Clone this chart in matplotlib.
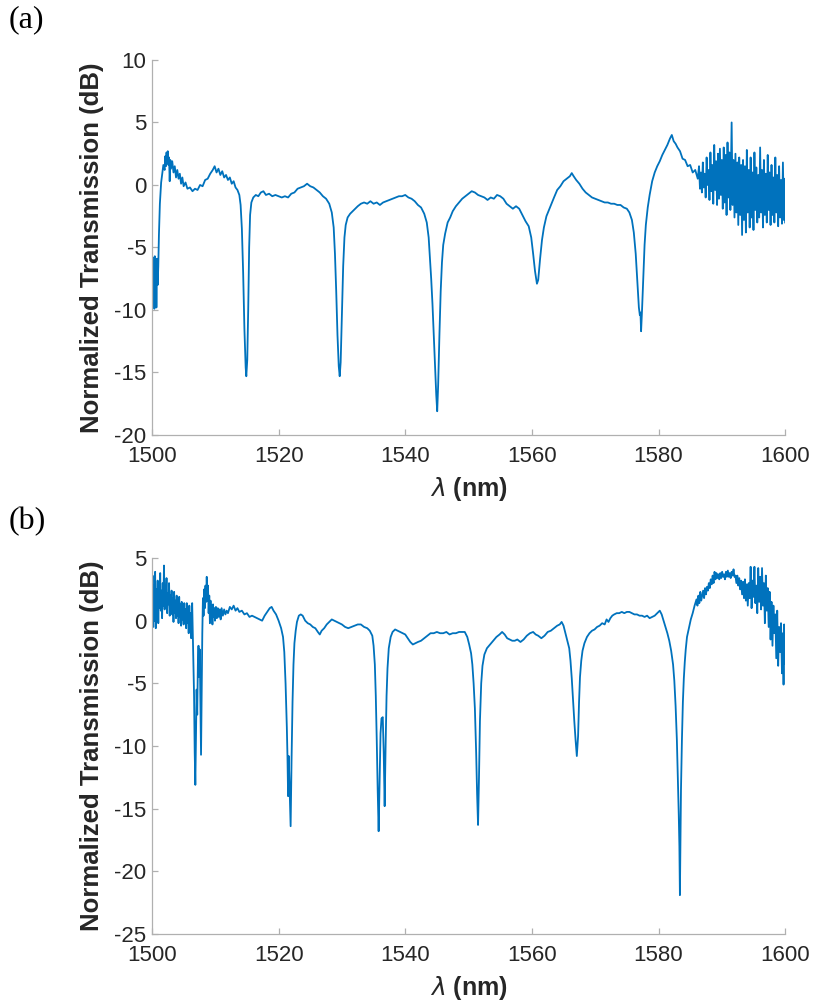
import matplotlib.pyplot as plt

# (wavelength nm, transmission dB)
points_a = [
    (1500.00, -10.3), (1500.05, -6.2), (1500.10, -9.5), (1500.15, -5.8), (1500.22, -8.8),
    (1500.30, -6.0), (1500.38, -9.9), (1500.45, -5.7), (1500.55, -8.5), (1500.62, -6.1),
    (1500.70, -9.8), (1500.80, -5.9), (1500.90, -8.0), (1501.00, -6.5), (1501.10, -4.0),
    (1501.25, -1.5), (1501.45, 0.2), (1501.6, 0.8), (1501.8, 1.6), (1502.0, 1.2),
    (1502.1, 2.3), (1502.2, 1.5), (1502.3, 2.6), (1502.4, 1.8), (1502.5, 2.7),
    (1502.6, 1.6), (1502.7, 2.2), (1502.8, 0.3), (1502.9, 2.0), (1503.0, 1.3),
    (1503.2, 1.9), (1503.4, 1.0), (1503.6, 1.5), (1503.8, 0.6), (1504.0, 1.2),
    (1504.2, 0.5), (1504.4, 0.9), (1504.6, 0.1), (1504.8, 0.6), (1505.0, -0.1),
    (1505.3, 0.2), (1505.6, -0.3), (1506.0, -0.2), (1506.4, -0.5), (1506.8, -0.3),
    (1507.2, -0.4), (1507.6, 0.0), (1508.0, -0.1), (1508.4, 0.4), (1508.8, 0.5),
    (1509.2, 0.9), (1509.6, 1.2), (1509.9, 1.5), (1510.2, 1.0), (1510.5, 1.3),
    (1510.8, 0.8), (1511.1, 1.1), (1511.4, 0.6), (1511.7, 0.8), (1512.0, 0.4),
    (1512.3, 0.6), (1512.6, 0.1), (1512.9, 0.3), (1513.2, -0.2), (1513.5, -0.4),
    (1513.8, -0.8), (1514.0, -1.6), (1514.2, -3.5), (1514.4, -7.0), (1514.6, -11.5),
    (1514.8, -14.6), (1514.9, -15.3), (1515.05, -14.0), (1515.2, -10.0), (1515.35, -5.0),
    (1515.5, -2.4), (1515.7, -1.4), (1516.0, -1.0), (1516.4, -0.8), (1516.8, -0.9),
    (1517.2, -0.6), (1517.6, -0.5), (1518.0, -0.8), (1518.5, -0.7), (1519.0, -0.9),
    (1519.5, -0.8), (1520.0, -0.9), (1520.5, -1.0), (1521.0, -0.9), (1521.5, -1.0),
    (1522.0, -0.7), (1522.5, -0.6), (1523.0, -0.3), (1523.5, -0.2), (1524.0, -0.1),
    (1524.5, 0.1), (1525.0, -0.1), (1525.5, -0.2), (1526.0, -0.4), (1526.5, -0.6),
    (1527.0, -0.9), (1527.5, -1.1), (1528.0, -1.5), (1528.4, -2.2), (1528.7, -3.4),
    (1528.9, -5.5), (1529.1, -8.5), (1529.3, -12.0), (1529.5, -14.5), (1529.65, -15.3),
    (1529.8, -14.2), (1530.0, -10.5), (1530.2, -6.5), (1530.4, -4.2), (1530.6, -3.2),
    (1530.9, -2.6), (1531.3, -2.3), (1531.7, -2.1), (1532.1, -1.9), (1532.5, -1.7),
    (1533.0, -1.5), (1533.5, -1.4), (1534.0, -1.5), (1534.5, -1.3), (1535.0, -1.5),
    (1535.5, -1.4), (1536.0, -1.6), (1536.5, -1.4), (1537.0, -1.3), (1537.5, -1.2),
    (1538.0, -1.1), (1538.5, -1.0), (1539.0, -0.9), (1539.5, -0.9), (1540.0, -0.8),
    (1540.5, -1.0), (1541.0, -1.1), (1541.5, -1.3), (1542.0, -1.6), (1542.5, -1.8),
    (1543.0, -2.3), (1543.4, -3.0), (1543.7, -4.2), (1543.9, -5.8), (1544.1, -7.5),
    (1544.3, -9.5), (1544.5, -12.0), (1544.7, -14.5), (1544.9, -16.8), (1545.05, -18.1),
    (1545.2, -16.0), (1545.4, -12.0), (1545.6, -8.5), (1545.8, -6.2), (1546.0, -4.8),
    (1546.3, -3.9), (1546.7, -3.0), (1547.1, -2.6), (1547.5, -2.1), (1548.0, -1.7),
    (1548.5, -1.4), (1549.0, -1.1), (1549.5, -0.9), (1550.0, -0.7), (1550.5, -0.5),
    (1551.0, -0.6), (1551.5, -0.8), (1552.0, -0.9), (1552.5, -1.0), (1553.0, -1.2),
    (1553.5, -1.0), (1554.0, -1.1), (1554.5, -0.8), (1555.0, -0.9), (1555.5, -1.1),
    (1556.0, -1.5), (1556.5, -1.7), (1557.0, -1.9), (1557.5, -1.7), (1558.0, -1.9),
    (1558.5, -2.4), (1559.0, -2.9), (1559.5, -3.3), (1559.9, -4.2), (1560.2, -5.5),
    (1560.5, -6.9), (1560.8, -7.9), (1561.0, -7.6), (1561.3, -5.9), (1561.6, -4.4),
    (1561.9, -3.4), (1562.3, -2.5), (1562.7, -2.0), (1563.1, -1.5), (1563.5, -1.0),
    (1564.0, -0.4), (1564.5, -0.1), (1565.0, 0.3), (1565.5, 0.5), (1566.0, 0.7),
    (1566.3, 0.95), (1566.6, 0.7), (1567.0, 0.4), (1567.5, 0.1), (1568.0, -0.3),
    (1568.5, -0.6), (1569.0, -0.8), (1569.5, -1.0), (1570.0, -1.1), (1570.5, -1.2),
    (1571.0, -1.3), (1571.5, -1.4), (1572.0, -1.4), (1572.5, -1.5), (1573.0, -1.5),
    (1573.5, -1.6), (1574.0, -1.6), (1574.5, -1.8), (1575.0, -1.9), (1575.4, -2.2),
    (1575.8, -2.8), (1576.1, -3.8), (1576.4, -5.5), (1576.7, -8.0), (1576.9, -9.8),
    (1577.05, -10.4), (1577.15, -10.2), (1577.25, -11.7), (1577.4, -10.0), (1577.6, -7.5),
    (1577.8, -4.8), (1578.0, -3.2), (1578.3, -1.8), (1578.6, -0.8), (1579.0, 0.3),
    (1579.4, 1.0), (1579.8, 1.5), (1580.2, 1.9), (1580.6, 2.4), (1581.0, 2.8),
    (1581.4, 3.2), (1581.8, 3.7), (1582.1, 4.0), (1582.4, 3.5), (1582.7, 3.3),
    (1583.0, 3.0), (1583.4, 2.7), (1583.8, 2.1), (1584.2, 2.0), (1584.6, 1.5),
    (1585.0, 1.6), (1585.4, 1.0), (1585.8, 1.2), (1586.2, 0.5),
    (1586.4, 1.5), (1586.55, -0.3), (1586.7, 1.0), (1586.85, -0.6), (1587.0, 1.8),
    (1587.15, -0.2), (1587.3, 0.9), (1587.45, -1.0), (1587.6, 2.2), (1587.75, 0.0),
    (1587.9, 1.2), (1588.05, -1.2), (1588.2, 2.6), (1588.35, -0.5), (1588.5, 1.6),
    (1588.65, -1.5), (1588.8, 3.2), (1588.95, -0.4), (1589.1, 1.9), (1589.25, -1.6),
    (1589.4, 2.5), (1589.55, -1.1), (1589.7, 2.9), (1589.85, -0.8), (1590.0, 2.0),
    (1590.15, -1.9), (1590.3, 3.0), (1590.45, -1.4), (1590.6, 2.4), (1590.75, -2.4),
    (1590.9, 3.4), (1591.05, -1.0), (1591.2, 2.6), (1591.35, -2.0), (1591.55, 5.0),
    (1591.7, -1.6), (1591.85, 2.0), (1592.0, -2.6), (1592.15, 2.5), (1592.3, -2.2),
    (1592.45, 1.8), (1592.6, -3.2), (1592.75, 2.2), (1592.9, -2.4), (1593.05, 1.6),
    (1593.2, -4.0), (1593.35, 2.0), (1593.5, -2.8), (1593.65, 1.5), (1593.8, -3.8),
    (1593.95, 2.8), (1594.1, -2.2), (1594.25, 1.2), (1594.4, -3.4), (1594.55, 2.2),
    (1594.7, -2.6), (1594.85, 1.0), (1595.0, -3.6), (1595.15, 2.6), (1595.3, -2.0),
    (1595.45, 1.4), (1595.6, -3.0), (1595.75, 0.8), (1595.9, -2.6), (1596.05, 3.0),
    (1596.2, -2.2), (1596.35, 1.2), (1596.5, -3.4), (1596.65, 2.0), (1596.8, -2.4),
    (1596.95, 0.9), (1597.1, -3.0), (1597.25, 2.4), (1597.4, -2.0), (1597.55, 1.0),
    (1597.7, -3.2), (1597.85, 1.6), (1598.0, -2.4), (1598.15, 0.6), (1598.3, -3.0),
    (1598.45, 2.2), (1598.6, -2.2), (1598.75, 0.8), (1598.9, -3.3), (1599.05, 1.5),
    (1599.2, -2.6), (1599.35, 0.4), (1599.5, -3.1), (1599.65, 1.8), (1599.8, -2.8),
    (1599.9, 0.5), (1600.0, -3.0),
]

# (wavelength nm, transmission dB)
points_b = [
    (1500.0, 0.3), (1500.1, 3.6), (1500.2, -0.5), (1500.3, 2.8), (1500.4, 0.0),
    (1500.5, 3.9), (1500.6, -0.6), (1500.7, 2.5), (1500.8, 0.5), (1500.9, 3.2),
    (1501.0, -0.2), (1501.1, 2.6), (1501.2, 1.0), (1501.3, 3.8), (1501.4, 0.8),
    (1501.5, 2.4), (1501.6, 0.2), (1501.7, 3.0), (1501.8, 1.2), (1501.9, 4.4),
    (1502.0, 0.9), (1502.1, 2.6), (1502.2, 1.5), (1502.3, 3.4), (1502.4, 0.6),
    (1502.5, 2.2), (1502.6, 1.3), (1502.7, 3.0), (1502.8, 0.4), (1502.9, 2.0),
    (1503.0, 1.0), (1503.1, 2.4), (1503.2, 0.5), (1503.3, 1.8), (1503.4, -0.1),
    (1503.5, 2.3), (1503.6, 0.6), (1503.7, 1.6), (1503.8, 0.2), (1503.9, 2.0),
    (1504.0, 0.4), (1504.1, 1.4), (1504.2, -0.2), (1504.3, 1.9), (1504.4, 0.3),
    (1504.5, 1.3), (1504.6, -0.4), (1504.7, 1.5), (1504.8, 0.1), (1504.9, 1.0),
    (1505.0, -0.3), (1505.1, 1.4), (1505.2, -0.1), (1505.3, 0.9), (1505.4, -0.6),
    (1505.5, 1.4), (1505.6, -0.2), (1505.7, 0.7), (1505.8, -1.0), (1505.9, 1.2),
    (1506.0, -0.5), (1506.1, 0.6), (1506.2, -1.4), (1506.35, 1.4), (1506.5, -2.5),
    (1506.65, -6.0), (1506.75, -10.5), (1506.85, -13.1), (1506.95, -9.0), (1507.05, -5.5),
    (1507.15, -7.5), (1507.25, -3.5), (1507.35, -2.0), (1507.45, -4.5), (1507.55, -2.3),
    (1507.65, -6.5), (1507.75, -10.7), (1507.85, -6.0), (1507.95, -1.0), (1508.05, 1.8),
    (1508.15, 0.4), (1508.25, 2.5), (1508.35, 1.0), (1508.45, 2.8), (1508.55, 1.5),
    (1508.65, 3.5), (1508.75, 1.6), (1508.85, 2.8), (1508.95, 0.6), (1509.05, 2.0),
    (1509.15, -0.2), (1509.25, 1.6), (1509.35, 0.2), (1509.45, 1.2), (1509.55, -0.3),
    (1509.65, 1.3), (1509.75, 0.3), (1509.85, 1.0), (1509.95, 0.0), (1510.1, 1.1),
    (1510.25, 0.2), (1510.4, 1.0), (1510.55, 0.3), (1510.7, 0.9), (1510.85, 0.1),
    (1511.0, 1.0), (1511.2, 0.4), (1511.4, 0.9), (1511.6, 0.5), (1511.8, 0.8),
    (1512.0, 0.6), (1512.3, 1.1), (1512.6, 0.9), (1512.9, 1.2), (1513.2, 0.8),
    (1513.5, 1.0), (1513.8, 0.7), (1514.2, 0.8), (1514.6, 0.5), (1515.0, 0.6),
    (1515.4, 0.3), (1515.8, 0.4), (1516.2, 0.3), (1516.6, 0.2), (1517.0, 0.1),
    (1517.4, 0.0), (1517.8, 0.4), (1518.2, 0.7), (1518.6, 1.0), (1518.9, 1.1),
    (1519.2, 0.8), (1519.6, 0.5), (1520.0, 0.0), (1520.4, -0.6), (1520.7, -1.3),
    (1520.9, -2.5), (1521.1, -5.0), (1521.3, -8.5), (1521.4, -10.8), (1521.5, -14.0),
    (1521.6, -10.8), (1521.75, -13.5), (1521.9, -16.4), (1522.05, -11.0), (1522.2, -6.5),
    (1522.35, -3.5), (1522.5, -1.8), (1522.7, -0.8), (1522.9, -0.1), (1523.2, 0.4),
    (1523.5, 0.5), (1523.8, 0.4), (1524.2, 0.0), (1524.6, -0.2), (1525.0, -0.3),
    (1525.4, -0.5), (1525.8, -0.6), (1526.2, -0.9), (1526.5, -1.1), (1526.8, -0.8),
    (1527.2, -0.6), (1527.6, -0.3), (1528.0, -0.1), (1528.4, 0.1), (1528.8, 0.0),
    (1529.2, -0.1), (1529.6, -0.2), (1530.0, -0.3), (1530.5, -0.5), (1531.0, -0.6),
    (1531.5, -0.5), (1532.0, -0.4), (1532.5, -0.3), (1533.0, -0.3), (1533.5, -0.5),
    (1534.0, -0.6), (1534.4, -0.8), (1534.8, -1.2), (1535.0, -2.0), (1535.2, -3.5),
    (1535.35, -6.0), (1535.5, -9.5), (1535.65, -13.5), (1535.8, -16.8), (1535.95, -13.0),
    (1536.1, -9.0), (1536.25, -7.8), (1536.45, -7.7), (1536.6, -10.5), (1536.75, -14.8),
    (1536.9, -10.0), (1537.05, -6.0), (1537.2, -3.8), (1537.4, -2.2), (1537.7, -1.3),
    (1538.0, -0.9), (1538.4, -0.7), (1538.8, -0.8), (1539.2, -0.9), (1539.6, -1.0),
    (1540.0, -1.1), (1540.4, -1.4), (1540.8, -1.7), (1541.2, -1.9), (1541.6, -1.8),
    (1542.0, -1.7), (1542.5, -1.6), (1543.0, -1.4), (1543.5, -1.2), (1544.0, -1.0),
    (1544.5, -1.0), (1545.0, -0.9), (1545.5, -1.0), (1546.0, -1.0), (1546.5, -0.9),
    (1547.0, -1.1), (1547.5, -1.0), (1548.0, -1.0), (1548.5, -0.9), (1549.0, -0.9),
    (1549.4, -0.9), (1549.8, -1.3), (1550.1, -1.9), (1550.4, -2.6), (1550.6, -3.5),
    (1550.8, -5.0), (1551.0, -7.0), (1551.2, -10.5), (1551.35, -13.8), (1551.5, -16.3),
    (1551.65, -12.5), (1551.8, -8.0), (1552.0, -5.0), (1552.2, -3.6), (1552.5, -2.7),
    (1552.9, -2.2), (1553.4, -1.9), (1553.9, -1.6), (1554.4, -1.3), (1554.9, -1.1),
    (1555.3, -0.9), (1555.7, -1.1), (1556.1, -1.4), (1556.5, -1.5), (1556.9, -1.6),
    (1557.3, -1.6), (1557.7, -1.5), (1558.2, -1.7), (1558.7, -1.5), (1559.2, -1.2),
    (1559.7, -1.0), (1560.2, -0.9), (1560.6, -1.1), (1561.0, -1.2), (1561.5, -1.4),
    (1562.0, -1.2), (1562.5, -0.9), (1563.0, -0.8), (1563.5, -0.6), (1564.0, -0.4),
    (1564.4, -0.3), (1564.7, -0.1), (1565.0, -0.4), (1565.3, -1.0), (1565.6, -1.6),
    (1565.9, -2.2), (1566.1, -3.2), (1566.3, -4.6), (1566.5, -6.3), (1566.7, -8.0),
    (1566.9, -9.5), (1567.1, -10.8), (1567.3, -9.2), (1567.45, -6.5), (1567.6, -4.5),
    (1567.8, -3.2), (1568.0, -2.4), (1568.3, -1.8), (1568.7, -1.3), (1569.1, -1.0),
    (1569.5, -0.8), (1569.9, -0.7), (1570.3, -0.5), (1570.7, -0.4), (1571.1, -0.2),
    (1571.5, -0.3), (1571.8, 0.1), (1572.1, -0.1), (1572.4, 0.2), (1572.7, 0.4),
    (1573.0, 0.5), (1573.4, 0.6), (1573.8, 0.6), (1574.2, 0.7), (1574.6, 0.6),
    (1575.0, 0.7), (1575.4, 0.7), (1575.8, 0.6), (1576.2, 0.5), (1576.6, 0.5),
    (1577.0, 0.4), (1577.4, 0.4), (1577.8, 0.3), (1578.2, 0.4), (1578.6, 0.2),
    (1579.0, 0.3), (1579.4, 0.4), (1579.8, 0.6), (1580.2, 0.8), (1580.5, 0.5),
    (1580.8, 0.0), (1581.1, -0.5), (1581.4, -1.0), (1581.7, -1.6), (1582.0, -2.4),
    (1582.3, -3.5), (1582.5, -4.8), (1582.7, -6.8), (1582.9, -9.5), (1583.05, -12.5),
    (1583.2, -15.5), (1583.3, -18.0), (1583.38, -21.9), (1583.45, -18.5), (1583.55, -13.5),
    (1583.7, -9.5), (1583.85, -6.5), (1584.0, -4.6), (1584.15, -3.3), (1584.3, -2.3),
    (1584.5, -1.3), (1584.8, -0.6), (1585.1, 0.1), (1585.4, 0.6), (1585.7, 1.2),
    (1586.0, 1.7), (1586.15, 1.2), (1586.3, 2.0), (1586.45, 1.4), (1586.6, 2.3),
    (1586.75, 1.6), (1586.9, 2.0), (1587.05, 2.4), (1587.2, 1.8), (1587.35, 2.6),
    (1587.5, 2.1), (1587.65, 2.7), (1587.8, 2.4), (1587.95, 3.0), (1588.1, 2.6),
    (1588.25, 3.3), (1588.4, 2.9), (1588.55, 3.6), (1588.7, 3.0), (1588.85, 3.9),
    (1589.0, 3.3), (1589.15, 3.8), (1589.3, 3.4), (1589.45, 3.7), (1589.6, 3.3),
    (1589.75, 3.8), (1589.9, 3.4), (1590.05, 3.9), (1590.2, 3.5), (1590.35, 3.7),
    (1590.5, 3.3), (1590.65, 3.9), (1590.8, 3.5), (1590.95, 4.0), (1591.1, 3.5),
    (1591.25, 3.8), (1591.4, 3.4), (1591.55, 3.9), (1591.7, 3.6), (1591.85, 4.1),
    (1592.0, 3.5), (1592.15, 3.6), (1592.3, 3.0), (1592.45, 3.6), (1592.6, 2.8),
    (1592.75, 3.4), (1592.9, 2.5), (1593.05, 3.2), (1593.2, 2.1), (1593.35, 3.1),
    (1593.5, 1.8), (1593.65, 3.3), (1593.8, 1.6), (1593.95, 2.9), (1594.1, 1.2),
    (1594.25, 3.0), (1594.4, 1.8), (1594.55, 4.3), (1594.7, 1.0), (1594.85, 3.2),
    (1595.0, 1.9), (1595.15, 4.3), (1595.3, 1.4), (1595.45, 2.8), (1595.6, 0.6),
    (1595.75, 4.2), (1595.9, 1.5), (1596.05, 3.5), (1596.2, 0.9), (1596.35, 4.2),
    (1596.5, 1.2), (1596.65, 3.0), (1596.8, -0.2), (1596.95, 3.6), (1597.1, 0.8),
    (1597.25, 2.6), (1597.4, -0.5), (1597.55, 2.3), (1597.7, -1.5), (1597.85, 1.5),
    (1598.0, -2.0), (1598.15, 1.2), (1598.3, -1.0), (1598.45, 0.5), (1598.6, -3.0),
    (1598.75, 0.8), (1598.9, -3.6), (1599.05, -0.5), (1599.2, -2.5), (1599.35, -0.2),
    (1599.5, -4.2), (1599.65, -1.0), (1599.75, -5.1), (1599.85, -0.3), (1599.95, -2.4),
    (1600.0, -3.4),
]

xticks = [1500, 1520, 1540, 1560, 1580, 1600]
yticks_a = [-20, -15, -10, -5, 0, 5, 10]
yticks_b = [-25, -20, -15, -10, -5, 0, 5]

lam_a, db_a = zip(*points_a)
lam_b, db_b = zip(*points_b)

plt.rcParams['font.family'] = ['Liberation Sans', 'DejaVu Sans']
plt.rcParams['mathtext.fontset'] = 'dejavusans'
plt.rcParams['axes.unicode_minus'] = False

line_color = '#0072BD'
axis_color = '#b0b0b0'
text_color = '#262626'

fig = plt.figure(figsize=(8.17, 10.06), dpi=100)
ax_a = fig.add_axes([0.186, 0.5676, 0.775, 0.3728])
ax_b = fig.add_axes([0.186, 0.0716, 0.775, 0.3737])

panels = [
    (ax_a, lam_a, db_a, yticks_a),
    (ax_b, lam_b, db_b, yticks_b),
]

for ax, lam, db, yticks in panels:
    ax.plot(lam, db, color=line_color, linewidth=1.3)
    ax.set_xlim(1500, 1600)
    ax.set_ylim(yticks[0], yticks[-1])
    ax.set_xticks(xticks)
    ax.set_yticks(yticks)
    for side in ['top', 'right']:
        ax.spines[side].set_visible(False)
    for side in ['left', 'bottom']:
        ax.spines[side].set_color(axis_color)
        ax.spines[side].set_linewidth(0.9)
    ax.tick_params(direction='in', length=4, width=0.9, color=axis_color,
                   labelcolor=text_color, labelsize=16)
    ax.tick_params(axis='y', pad=4)
    ax.tick_params(axis='x', pad=8)
    ax.set_ylabel('Normalized Transmission (dB)', fontsize=18.5,
                  fontweight='bold', color=text_color, labelpad=7)
    ax.set_xlabel(r'$\lambda$ (nm)', fontsize=18, fontweight='bold',
                  color=text_color, labelpad=6)

fig.text(0.010, 0.995, '(a)', family='Liberation Serif', fontsize=23,
         va='top', ha='left')
fig.text(0.010, 0.496, '(b)', family='Liberation Serif', fontsize=23,
         va='top', ha='left')

fig.savefig('out.png', dpi=100)
